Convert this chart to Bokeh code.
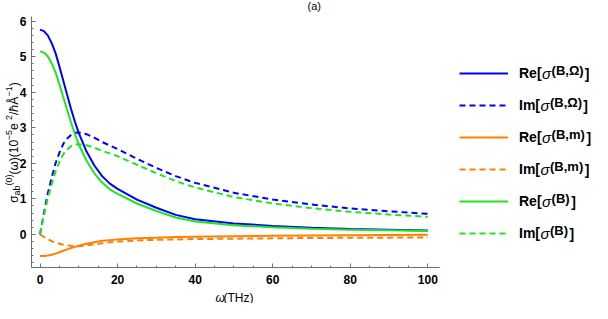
import math
from bokeh.plotting import figure
from bokeh.models import Legend, LegendItem, Label, SingleIntervalTicker, Range1d, LinearAxis
from bokeh.embed import file_html
from bokeh.resources import INLINE

# ---- data ----
omega = [0, 1, 2, 3, 4, 5, 6, 7, 8, 9, 10, 12, 14, 16, 18, 20, 25, 30, 35, 40, 50, 60, 70, 80, 90, 100]
re_b_omega = [5.76, 5.72, 5.60, 5.38, 5.10, 4.72, 4.32, 3.92, 3.53, 3.17, 2.85, 2.33, 1.94, 1.64, 1.43, 1.28,
              0.98, 0.75, 0.55, 0.43, 0.31, 0.24, 0.19, 0.15, 0.13, 0.11]
im_b_omega = [0.0, 0.60, 1.15, 1.60, 2.00, 2.30, 2.55, 2.70, 2.80, 2.86, 2.87, 2.82, 2.72, 2.60, 2.50, 2.40,
              2.13, 1.87, 1.64, 1.45, 1.17, 0.98, 0.84, 0.73, 0.65, 0.58]
re_b_m = [-0.61, -0.605, -0.59, -0.57, -0.54, -0.50, -0.46, -0.42, -0.38, -0.35, -0.32, -0.26, -0.22, -0.18,
          -0.16, -0.14, -0.11, -0.09, -0.075, -0.065, -0.05, -0.04, -0.03, -0.02, -0.015, -0.01]
im_b_m = [0.0, -0.07, -0.13, -0.19, -0.23, -0.26, -0.29, -0.31, -0.32, -0.33, -0.33, -0.31, -0.28, -0.25,
          -0.22, -0.20, -0.17, -0.15, -0.14, -0.13, -0.12, -0.11, -0.10, -0.095, -0.09, -0.085]
re_b = [5.15, 5.115, 5.01, 4.81, 4.56, 4.22, 3.86, 3.50, 3.15, 2.82, 2.53, 2.07, 1.72, 1.46, 1.27, 1.14,
        0.87, 0.66, 0.475, 0.365, 0.26, 0.20, 0.16, 0.13, 0.115, 0.10]
im_b = [0.0, 0.53, 1.02, 1.41, 1.77, 2.04, 2.26, 2.39, 2.48, 2.53, 2.54, 2.51, 2.44, 2.35, 2.28, 2.20,
        1.96, 1.72, 1.50, 1.32, 1.05, 0.87, 0.74, 0.635, 0.56, 0.495]

series = [
    ("Re[", "(B,Ω)", re_b_omega, "#0000ff", "solid"),
    ("Im[", "(B,Ω)", im_b_omega, "#0000ff", "6 4"),
    ("Re[", "(B,m)", re_b_m, "#ff8000", "solid"),
    ("Im[", "(B,m)", im_b_m, "#ff8000", "6 4"),
    ("Re[", "(B)", re_b, "#1ee61e", "solid"),
    ("Im[", "(B)", im_b, "#1ee61e", "6 4"),
]

X_LO, X_HI = -2.2, 103.0
Y_LO, Y_HI = -0.93, 6.13

FONT = "Liberation Sans"
W, H = 592, 303
FL, FR, FT, FB = 31, 439, 16, 267  # desired axes box in canvas px

# frame covers the whole canvas; axes are placed at fixed locations inside it
kx = (FR - FL) / (X_HI - X_LO)
ky = (FB - FT) / (Y_HI - Y_LO)
xr = Range1d(X_LO - FL / kx, X_HI + (W - FR) / kx)
yr = Range1d(Y_LO - (H - FB) / ky, Y_HI + FT / ky)

p = figure(width=W, height=H, x_range=xr, y_range=yr, output_backend="svg", toolbar_location=None,
           x_axis_location=None, y_axis_location=None,
           min_border_left=0, min_border_right=0, min_border_top=0, min_border_bottom=0)
p.outline_line_color = None
p.grid.visible = False
p.background_fill_color = "white"

xaxis = LinearAxis(ticker=SingleIntervalTicker(interval=20, num_minor_ticks=4),
                   fixed_location=Y_LO, bounds=(X_LO, X_HI))
yaxis = LinearAxis(ticker=SingleIntervalTicker(interval=1, num_minor_ticks=5),
                   fixed_location=X_LO, bounds=(Y_LO, Y_HI))
for ax in (xaxis, yaxis):
    ax.axis_line_color = "#6e6e6e"
    ax.major_tick_line_color = "#6e6e6e"
    ax.minor_tick_line_color = "#6e6e6e"
    ax.major_tick_in = 4
    ax.major_tick_out = 0
    ax.minor_tick_in = 2
    ax.minor_tick_out = 0
    ax.major_label_text_font = FONT
    ax.major_label_text_font_size = "12px"
    ax.major_label_text_font_style = "bold"
    ax.major_label_text_color = "black"
xaxis.major_label_standoff = 7
yaxis.major_label_standoff = 5
p.add_layout(xaxis, "below")
p.add_layout(yaxis, "left")

items = []
for pre, sup, ys, col, dash in series:
    r = p.line(omega, ys, line_color=col, line_width=2, line_dash=dash)
    items.append(LegendItem(label=pre, renderers=[r]))

legend = Legend(items=items, location=(459, H - 243), padding=0, margin=0, border_line_color=None,
                background_fill_alpha=0, glyph_width=49, glyph_height=20, label_height=20,
                spacing=12, label_standoff=11, label_text_font=FONT, label_text_font_size="14px",
                label_text_font_style="bold", label_text_color="black")
p.add_layout(legend, "center")


def lab(text, cx, cy, size, style="normal", align="left", base="middle", angle=0.0):
    p.add_layout(Label(x=cx, y=H - cy, x_units="screen", y_units="screen", text=text,
                       text_font=FONT, text_font_size=f"{size}px", text_font_style=style,
                       text_align=align, text_baseline=base, angle=angle, text_color="black"))


# legend text pieces (σ, superscript, closing bracket)
pre_w = {"Re[": 22.6, "Im[": 21.0}
sup_w = {"(B,Ω)": 31.7, "(B,m)": 33.3, "(B)": 18.1}
for k, (pre, sup, ys, col, dash) in enumerate(series):
    cy = 73 + 32 * k
    x0 = 519 + pre_w[pre]
    lab("σ", x0, cy, 15, style="italic")
    xs = x0 + 9.5
    lab(sup, xs, cy - 3.5, 13, style="bold", base="alphabetic")
    lab("]", xs + sup_w[sup] + 1.5, cy, 14, style="bold")

# title
lab("(a)", 307, 5, 11)

# x axis label
lab("ω", 215, 297, 12, style="italic")
lab("(THz)", 223, 297, 12)

# y axis label (rotated)
char_w = {"σ": 0.6, "a": 0.556, "b": 0.556, "(": 0.333, ")": 0.333, "0": 0.556, "1": 0.556,
          "2": 0.556, "5": 0.556, "ω": 0.75, "−": 0.584, " ": 0.278, "e": 0.556, "/": 0.278,
          "ℏ": 0.6, "Å": 0.667}
pieces = [("σ", 12, 13), ("ab", 9, 16), ("(0)", 9, 8), ("(ω)(10", 12, 13), ("−5", 9, 8),
          (" e", 12, 13), ("2", 9, 8), ("/ℏÅ", 12, 13), ("−1", 9, 8), (")", 12, 13)]
total = sum(sum(char_w[c] for c in t) * s for t, s, _ in pieces)
ypos = 142 + total / 2
for t, s, bx in pieces:
    lab(t, bx, ypos, s, base="alphabetic", angle=math.pi / 2)
    ypos -= sum(char_w[c] for c in t) * s

open("out.html", "w").write(file_html(p, INLINE))
